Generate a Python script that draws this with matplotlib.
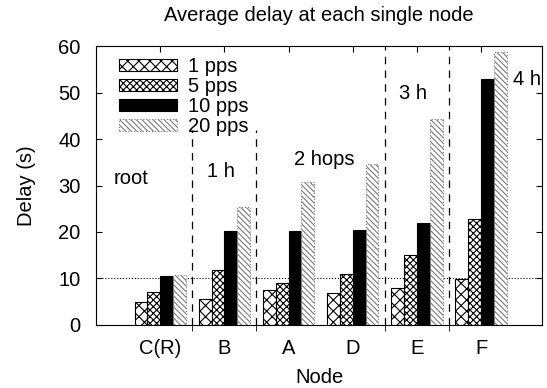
import numpy as np
import matplotlib
matplotlib.use('Agg')
import matplotlib.pyplot as plt

plt.rcParams['font.family'] = ['Liberation Sans', 'DejaVu Sans']
plt.rcParams['hatch.linewidth'] = 0.8

# data
nodes = ['C(R)', 'B', 'A', 'D', 'E', 'F']
series = ['1 pps', '5 pps', '10 pps', '20 pps']
delay_1pps = [4.9, 5.5, 7.5, 6.8, 8.0, 9.9]
delay_5pps = [7.2, 11.8, 9.0, 11.0, 15.0, 22.9]
delay_10pps = [10.5, 20.2, 20.2, 20.5, 22.0, 53.0]
delay_20pps = [10.7, 25.4, 30.7, 34.6, 44.4, 58.7]

hop_labels = ['root', '1 h', '2 hops', '3 h', '4 h']
hop_x = [-0.45, 0.94, 2.56, 3.94, 5.72]
hop_y = [31.4, 33.0, 35.6, 49.8, 52.7]

fig = plt.figure(figsize=(5.47, 3.88), dpi=100)
ax = fig.add_axes([0.1755, 0.1624, 0.8155, 0.719])

x = np.arange(len(nodes))
w = 0.2
styles = [
    dict(facecolor='white', edgecolor='black', hatch='xxx', linewidth=0.8),
    dict(facecolor='white', edgecolor='black', hatch='xxxxx', linewidth=0.8),
    dict(facecolor='black', edgecolor='black', linewidth=0.8),
    dict(facecolor='white', edgecolor='#7a7a7a', hatch='\\\\\\\\\\\\', linewidth=0.8,
         linestyle=':'),
]
values = [delay_1pps, delay_5pps, delay_10pps, delay_20pps]
for i, (vals, lab, st) in enumerate(zip(values, series, styles)):
    ax.bar(x + (i - 1.5) * w, vals, width=w, label=lab, **st)

# reference line and hop separators
ax.axhline(10, color='black', linestyle=':', linewidth=0.8, zorder=0)
for bx, top in zip([0.5, 1.5, 3.5, 4.5], [42, 42, 60, 60]):
    ax.plot([bx, bx], [0, top], color='black', linestyle=(0, (6, 5)),
            linewidth=0.9, zorder=0)

for t, tx, ty in zip(hop_labels, hop_x, hop_y):
    ax.text(tx, ty, t, fontsize=14.5, ha='center', va='center', clip_on=False)

ax.set_xlim(-1, 5.95)
ax.set_ylim(0, 60)
ax.set_yticks(range(0, 61, 10))
ax.set_xticks(x)
ax.set_xticklabels(nodes)
ax.set_xticks([0.5, 1.5, 3.5, 4.5], minor=True)
ax.tick_params(axis='x', which='major', bottom=False, top=True,
               direction='in', length=4, labelsize=14.5, pad=10)
ax.tick_params(axis='x', which='minor', bottom=True, top=False,
               direction='out', length=4)
ax.tick_params(axis='y', left=True, right=True, direction='in',
               length=4, labelsize=14.5, pad=11)

ax.set_xlabel('Node', fontsize=14.5, labelpad=7)
ax.set_ylabel('Delay (s)', fontsize=14.5, labelpad=16)
ax.set_title('Average delay at each single node', fontsize=14.5, pad=18)

ax.legend(loc='upper left', bbox_to_anchor=(0.02, 1.012), frameon=False,
          fontsize=14.5, handlelength=2.9, handleheight=0.55,
          labelspacing=0.05, borderaxespad=0.3, handletextpad=0.55)

fig.savefig('out.png', dpi=100)
